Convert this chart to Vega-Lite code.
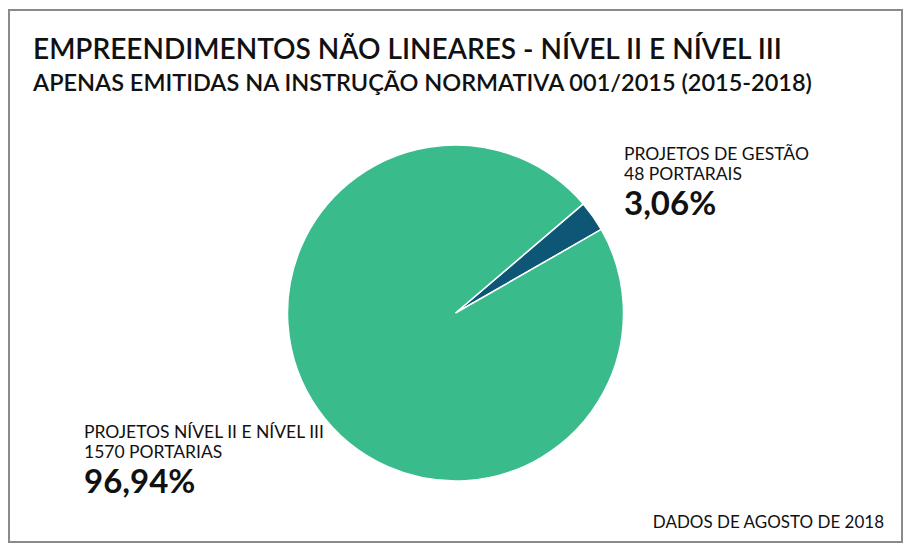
{
  "$schema": "https://vega.github.io/schema/vega-lite/v6.json",
  "autosize": "none",
  "width": 893,
  "height": 532,
  "padding": {"left": 9, "top": 10, "right": 6, "bottom": 8},
  "background": "white",
  "title": {
    "text": "EMPREENDIMENTOS NÃO LINEARES - NÍVEL II E NÍVEL III",
    "subtitle": "APENAS EMITIDAS NA INSTRUÇÃO NORMATIVA 001/2015 (2015-2018)",
    "anchor": "start",
    "frame": "group",
    "orient": "top",
    "offset": -86,
    "dx": 24,
    "font": "Lato",
    "fontSize": 28,
    "fontWeight": 600,
    "color": "#111111",
    "subtitleFont": "Lato",
    "subtitleFontSize": 23.5,
    "subtitleFontWeight": 600,
    "subtitleColor": "#111111",
    "subtitlePadding": 7
  },
  "config": {
    "view": {"stroke": null},
    "text": {"font": "Lato", "color": "#111111"}
  },
  "data": {
    "values": [
      {"categoria": "PROJETOS DE GESTÃO", "portarias": 48, "rotulo": ["PROJETOS DE GESTÃO", "48 PORTARAIS"], "percentual": "3,06%"},
      {"categoria": "PROJETOS NÍVEL II E NÍVEL III", "portarias": 1570, "rotulo": ["PROJETOS NÍVEL II E NÍVEL III", "1570 PORTARIAS"], "percentual": "96,94%"}
    ]
  },
  "layer": [
    {
      "data": {"values": [{"moldura": "borda"}]},
      "mark": {"type": "rect", "filled": false, "stroke": "#8a8a8a", "strokeWidth": 2},
      "encoding": {}
    },
    {
      "mark": {"type": "arc", "outerRadius": 168, "yOffset": 37, "stroke": "white", "strokeWidth": 1.5},
      "encoding": {
        "theta": {"field": "portarias", "type": "quantitative", "stack": true, "sort": "ascending", "scale": {"range": [0.864, 7.147]}},
        "order": {"field": "portarias", "type": "quantitative", "sort": "ascending"},
        "color": {"field": "categoria", "type": "nominal", "legend": null,
          "scale": {"domain": ["PROJETOS DE GESTÃO", "PROJETOS NÍVEL II E NÍVEL III"], "range": ["#0e5676", "#3abb8c"]}}
      }
    },
    {
      "transform": [{"filter": "datum.portarias < 100"}],
      "mark": {"type": "text", "align": "left", "baseline": "alphabetic", "dx": 168.5, "dy": -116, "fontSize": 17.5, "lineHeight": 19.5},
      "encoding": {"text": {"field": "rotulo"}}
    },
    {
      "transform": [{"filter": "datum.portarias < 100"}],
      "mark": {"type": "text", "align": "left", "baseline": "alphabetic", "dx": 168.5, "dy": -61, "fontSize": 33, "fontWeight": "bold"},
      "encoding": {"text": {"field": "percentual"}}
    },
    {
      "transform": [{"filter": "datum.portarias > 100"}],
      "mark": {"type": "text", "align": "left", "baseline": "alphabetic", "dx": -371.5, "dy": 162, "fontSize": 17.5, "lineHeight": 20},
      "encoding": {"text": {"field": "rotulo"}}
    },
    {
      "transform": [{"filter": "datum.portarias > 100"}],
      "mark": {"type": "text", "align": "left", "baseline": "alphabetic", "dx": -371.5, "dy": 217, "fontSize": 33, "fontWeight": "bold"},
      "encoding": {"text": {"field": "percentual"}}
    },
    {
      "data": {"values": [{"nota": "DADOS DE AGOSTO DE 2018"}]},
      "mark": {"type": "text", "align": "right", "baseline": "alphabetic", "dx": 428.5, "dy": 252, "fontSize": 17},
      "encoding": {"text": {"field": "nota"}}
    }
  ]
}
